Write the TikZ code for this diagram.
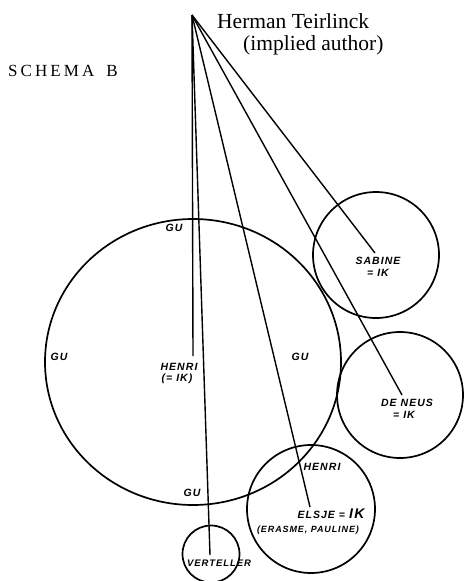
\documentclass[tikz,border=0pt]{standalone}
\usepackage{fontspec}
\setmainfont{Liberation Serif}
\newfontfamily\handfont[LetterSpace=10]{Liberation Sans}
\newfontfamily\capsfont[LetterSpace=18]{Liberation Serif}
\usetikzlibrary{shapes.geometric,positioning}

\begin{document}
\begin{tikzpicture}[x=1pt, y=-1pt, every node/.style={inner sep=0pt},
  ring/.style={draw, circle, line width=1.7pt},
  ray/.style={line width=1.4pt},
  hand/.style={font=\handfont\bfseries\itshape\fontsize{10.5}{11}\selectfont}]
  \useasboundingbox (0,0) rectangle (465,581);
  % Heading
  \node[anchor=base west, font=\fontsize{21.5}{23}\selectfont] (author) at (217,28) {Herman Teirlinck};
  \node[anchor=base west, font=\fontsize{21.5}{23}\selectfont] (role) at (243,50) {(implied author)};
  \node[anchor=base west, font=\capsfont\fontsize{17}{18}\selectfont] (schema) at (8,76) {SCHEMA\hspace{12pt}B};
  \coordinate (apex) at (192,15);
  % Circles
  \node[draw, ellipse, line width=1.7pt, minimum width=296pt, minimum height=286pt] (gu) at (193,362) {};
  \node[ring, minimum size=126pt] (sabine) at (376,255) {};
  \node[ring, minimum size=126pt] (deneus) at (400,395) {};
  \node[ring, minimum size=128pt] (elsje) at (311,509) {};
  \node[ring, minimum size=57pt] (verteller) at (211,554) {};
  % Ends of the lines
  \coordinate (henriEnd) at (193,356);
  \coordinate (vertEnd) at (210,555);
  \coordinate (elsjeEnd) at (310,507);
  \coordinate (deneusEnd) at (402,395);
  \coordinate (sabineEnd) at (375,253);
  % Lines from the implied author
  \draw[ray] (apex) -- (henriEnd);
  \draw[ray] (apex) -- (vertEnd);
  \draw[ray] (apex) -- (elsjeEnd);
  \draw[ray] (apex) -- (deneusEnd);
  \draw[ray] (apex) -- (sabineEnd);
  % Labels
  \node[hand] (guTop) at (174,228) {GU};
  \node[hand] (guLeft) at (59,357) {GU};
  \node[hand] (guRight) at (300,357) {GU};
  \node[hand] (guBottom) at (192,493) {GU};
  \node[hand] (henri) at (179,367) {HENRI};
  \node[hand] (henriIk) at (177,379) {(= IK)};
  \node[hand] (sabineName) at (378,261) {SABINE};
  \node[hand] (sabineIk) at (378,273) {= IK};
  \node[hand] (deneusName) at (407,403) {DE NEUS};
  \node[hand] (deneusIk) at (404,415) {= IK};
  \node[hand] (henriTwo) at (322,467) {HENRI};
  \node[hand] (elsjeName) at (331,514) {ELSJE = {\fontsize{14}{14}\selectfont IK}};
  \node[hand, font=\handfont\bfseries\itshape\fontsize{9}{10}\selectfont] (elsjeOthers) at (308,530) {(ERASME, PAULINE)};
  \node[hand, font=\handfont\bfseries\itshape\fontsize{9.5}{10}\selectfont] (verteller) at (219,563) {VERTELLER};
\end{tikzpicture}
\end{document}
